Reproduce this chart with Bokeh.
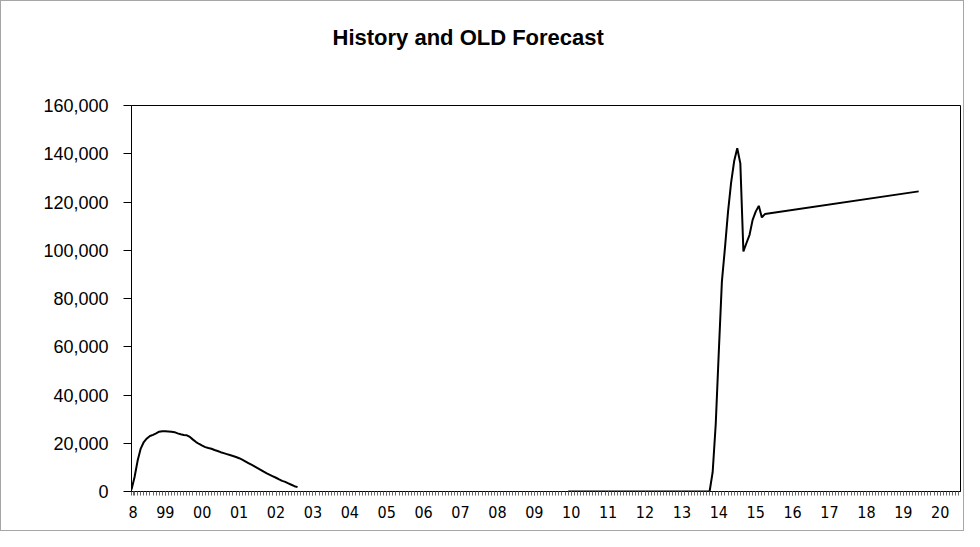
from bokeh.plotting import figure
from bokeh.models import FixedTicker, NumeralTickFormatter, Range1d, Title
from bokeh.embed import file_html
from bokeh.resources import INLINE

# Month index: 0 = Feb 1998 (first category of the axis)
hist_months = list(range(0, 55))
hist_values = [800, 6000, 12800, 17800, 20500, 22000, 23000, 23500, 24100, 24800,
               25000, 25000, 24900, 24800, 24600, 24100, 23700, 23400, 23300, 22600,
               21500, 20500, 19700, 19000, 18400, 18000, 17700, 17200, 16800, 16300,
               15900, 15500, 15100, 14700, 14300, 13800, 13200, 12500, 11800, 11100,
               10400, 9700, 9000, 8200, 7500, 6900, 6300, 5700, 5000, 4400,
               4000, 3400, 2800, 2200, 1800]

fc_months = [142, 188, 189, 190, 191, 192, 193, 194, 195, 196, 197, 198, 199,
             200, 201, 202, 203, 204, 205, 206, 256]
fc_values = [0, 0, 8000, 28000, 58000, 87000, 101000, 116000, 128000, 137000,
             142300, 136000, 99500, 103000, 106400, 112600, 116000, 118400,
             113600, 115000, 124400]

year_ticks = [0.5] + [11 + 12 * k for k in range(22)]
year_labels = ["8", "99"] + ["%02d" % y for y in range(0, 21)]
month_ticks = list(range(0, 270))

y_ticks = [0, 20000, 40000, 60000, 80000, 100000, 120000, 140000, 160000]

title_text = "History and OLD Forecast"

p = figure(width=964, height=531, output_backend="svg", toolbar_location=None,
           title=None,
           x_range=Range1d(0, 269.6), y_range=Range1d(0, 160000),
           min_border_left=130, min_border_right=5, min_border_top=104,
           min_border_bottom=41)
p.styles = {"border": "1px solid #a6a6a6"}

p.line(hist_months, hist_values, line_color="black", line_width=2)
p.line(fc_months, fc_values, line_color="black", line_width=2)

p.grid.visible = False
p.outline_line_color = "black"
p.outline_line_width = 1
p.background_fill_color = "white"
p.border_fill_color = "white"

# spacer (closest to the plot), then the visible title above it
p.add_layout(Title(text=" ", text_font_size="10px", standoff=38), "above")
p.add_layout(Title(text=title_text, text_font="Liberation Sans",
                   text_font_size="22px", text_font_style="bold",
                   text_color="black", align="left", offset=201,
                   standoff=10), "above")

xa = p.xaxis[0]
xa.ticker = FixedTicker(ticks=year_ticks, minor_ticks=month_ticks)
xa.major_label_overrides = {t: l for t, l in zip(year_ticks, year_labels)}
xa.major_tick_out = 4
xa.major_tick_in = 0
xa.minor_tick_out = 4
xa.minor_tick_in = 0
xa.minor_tick_line_color = "#666666"
xa.major_tick_line_color = "#666666"
xa.axis_line_color = "black"
xa.major_label_text_font = "DejaVu Sans Condensed"
xa.major_label_text_font_size = "16px"
xa.major_label_text_color = "black"
xa.major_label_standoff = 10

ya = p.yaxis[0]
ya.ticker = FixedTicker(ticks=y_ticks)
ya.formatter = NumeralTickFormatter(format="0,0")
ya.major_tick_out = 8
ya.major_tick_in = 0
ya.minor_tick_out = 0
ya.minor_tick_in = 0
ya.axis_line_color = "black"
ya.major_tick_line_color = "black"
ya.major_label_text_font = "Liberation Sans"
ya.major_label_text_font_size = "18px"
ya.major_label_text_color = "black"
ya.major_label_standoff = 15

open("out.html", "w").write(file_html(p, INLINE))
